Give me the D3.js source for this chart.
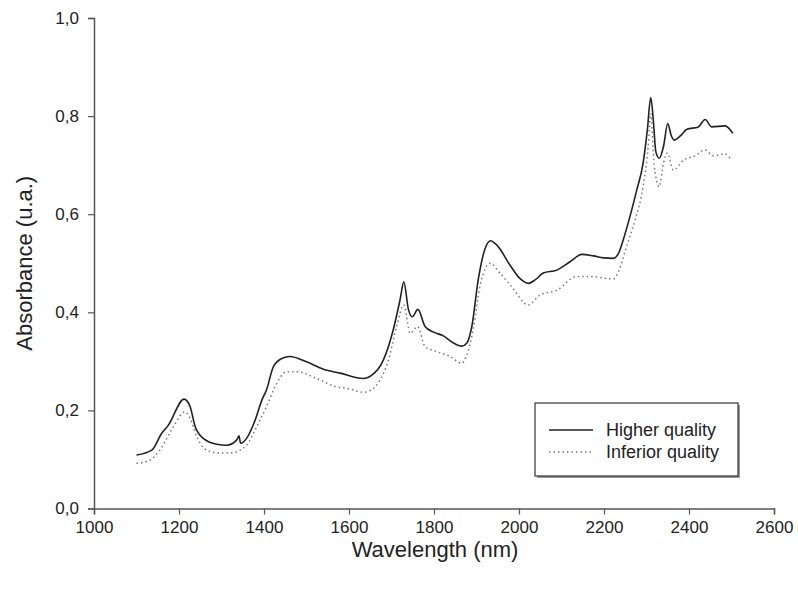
<!DOCTYPE html>
<html>
<head>
<meta charset="utf-8">
<script src="https://cdn.jsdelivr.net/npm/d3@7"></script>
<style>
  body { margin: 0; background: #fff; }
  svg text { font-family: "Liberation Sans", Arial, sans-serif; fill: #222; }
</style>
</head>
<body>
<div class="chart"></div>
<script>
// wavelengths (nm) and absorbance
const nmHigher = [1100, 1136, 1159, 1175, 1212, 1226, 1238, 1257, 1289, 1312, 1336, 1341, 1345, 1359, 1379, 1395, 1406, 1422, 1442, 1461, 1500, 1540, 1579, 1634, 1649, 1681, 1704, 1720, 1729, 1740, 1749, 1762, 1779, 1798, 1822, 1845, 1865, 1877, 1889, 1904, 1918, 1933, 1948, 1979, 2002, 2022, 2038, 2057, 2089, 2120, 2148, 2175, 2199, 2222, 2234, 2245, 2261, 2277, 2292, 2302, 2310, 2316, 2322, 2330, 2340, 2350, 2358, 2365, 2379, 2395, 2422, 2438, 2453, 2485, 2503];
const absHigher = [0.109, 0.119, 0.153, 0.170, 0.223, 0.208, 0.167, 0.143, 0.131, 0.129, 0.140, 0.148, 0.133, 0.143, 0.180, 0.221, 0.242, 0.289, 0.306, 0.310, 0.299, 0.284, 0.276, 0.265, 0.269, 0.303, 0.364, 0.425, 0.462, 0.405, 0.391, 0.406, 0.371, 0.360, 0.352, 0.338, 0.331, 0.337, 0.371, 0.466, 0.524, 0.546, 0.537, 0.496, 0.469, 0.459, 0.466, 0.480, 0.486, 0.503, 0.518, 0.515, 0.511, 0.510, 0.520, 0.547, 0.595, 0.649, 0.704, 0.772, 0.838, 0.792, 0.727, 0.714, 0.738, 0.785, 0.761, 0.751, 0.759, 0.773, 0.778, 0.793, 0.778, 0.780, 0.765];

const nmInferior = [1100, 1128, 1155, 1187, 1214, 1226, 1242, 1265, 1296, 1328, 1344, 1359, 1383, 1406, 1426, 1453, 1477, 1524, 1571, 1595, 1634, 1653, 1673, 1693, 1712, 1729, 1744, 1761, 1779, 1806, 1838, 1865, 1876, 1892, 1908, 1932, 1955, 1983, 2022, 2049, 2089, 2136, 2167, 2222, 2234, 2253, 2273, 2292, 2304, 2310, 2318, 2330, 2340, 2349, 2363, 2387, 2414, 2438, 2457, 2485, 2497];
const absInferior = [0.092, 0.097, 0.119, 0.167, 0.197, 0.184, 0.146, 0.119, 0.113, 0.114, 0.119, 0.129, 0.167, 0.208, 0.248, 0.279, 0.279, 0.265, 0.248, 0.245, 0.237, 0.242, 0.262, 0.303, 0.371, 0.415, 0.357, 0.371, 0.330, 0.320, 0.310, 0.296, 0.310, 0.364, 0.452, 0.500, 0.480, 0.452, 0.415, 0.435, 0.445, 0.473, 0.473, 0.468, 0.483, 0.534, 0.588, 0.656, 0.738, 0.805, 0.700, 0.656, 0.704, 0.725, 0.690, 0.710, 0.719, 0.731, 0.719, 0.723, 0.714];

const xTicks = [1000, 1200, 1400, 1600, 1800, 2000, 2200, 2400, 2600];
const yTicks = [0, 0.2, 0.4, 0.6, 0.8, 1.0];
const seriesNames = ['Higher quality', 'Inferior quality'];

const width = 798, height = 592;
const svg = d3.select('.chart')
  .append('svg')
  .attr('width', width)
  .attr('height', height);

const x = d3.scaleLinear().domain([1000, 2600]).range([94, 774]);
const y = d3.scaleLinear().domain([0, 1]).range([508.5, 18]);

const comma = d3.formatLocale({ decimal: ',', thousands: '.', grouping: [3], currency: ['', ''] });

const xAxis = svg.append('g')
  .attr('transform', `translate(0, ${y(0)})`)
  .call(d3.axisBottom(x).tickValues(xTicks).tickSize(6).tickPadding(6).tickFormat(d3.format('d')));

const yAxis = svg.append('g')
  .attr('transform', `translate(${x(1000)}, 0)`)
  .call(d3.axisLeft(y).tickValues(yTicks).tickSize(6).tickPadding(9).tickFormat(comma.format('.1f')));

[xAxis, yAxis].forEach(ax => {
  ax.select('.domain').attr('stroke', '#555').attr('stroke-width', 1.5);
  ax.selectAll('.tick line').attr('stroke', '#555').attr('stroke-width', 1.2);
  ax.selectAll('.tick text')
    .attr('font-size', 17)
    .attr('fill', '#222')
    .style('font-family', '"Liberation Sans", Arial, sans-serif');
});

svg.append('text')
  .attr('x', 435)
  .attr('y', 557)
  .attr('text-anchor', 'middle')
  .attr('font-size', 22)
  .text('Wavelength (nm)');

svg.append('text')
  .attr('transform', `translate(32, ${y(0.5)}) rotate(-90)`)
  .attr('text-anchor', 'middle')
  .attr('font-size', 22)
  .text('Absorbance (u.a.)');

const line = d3.line()
  .x(d => x(d[0]))
  .y(d => y(d[1]))
  .curve(d3.curveMonotoneX);

svg.append('path')
  .datum(d3.zip(nmInferior, absInferior))
  .attr('fill', 'none')
  .attr('stroke', '#777')
  .attr('stroke-width', 1.5)
  .attr('stroke-dasharray', '1.5,3')
  .attr('d', line);

svg.append('path')
  .datum(d3.zip(nmHigher, absHigher))
  .attr('fill', 'none')
  .attr('stroke', '#222')
  .attr('stroke-width', 1.6)
  .attr('d', line);

// legend
const legend = svg.append('g').attr('transform', 'translate(535, 403)');
legend.append('rect')
  .attr('x', 2).attr('y', 2)
  .attr('width', 203).attr('height', 73)
  .attr('fill', '#999');
legend.append('rect')
  .attr('width', 203).attr('height', 73)
  .attr('fill', '#fff')
  .attr('stroke', '#333')
  .attr('stroke-width', 1.2);

const rows = legend.selectAll('g.row')
  .data(seriesNames)
  .enter()
  .append('g')
  .attr('class', 'row')
  .attr('transform', (d, i) => `translate(0, ${27 + i * 22})`);

rows.append('line')
  .attr('x1', 14).attr('x2', 58)
  .attr('stroke', (d, i) => i === 0 ? '#222' : '#777')
  .attr('stroke-width', 1.5)
  .attr('stroke-dasharray', (d, i) => i === 0 ? null : '1.5,3');

rows.append('text')
  .attr('x', 71)
  .attr('dy', '0.35em')
  .attr('font-size', 18)
  .text(d => d);
</script>
</body>
</html>
